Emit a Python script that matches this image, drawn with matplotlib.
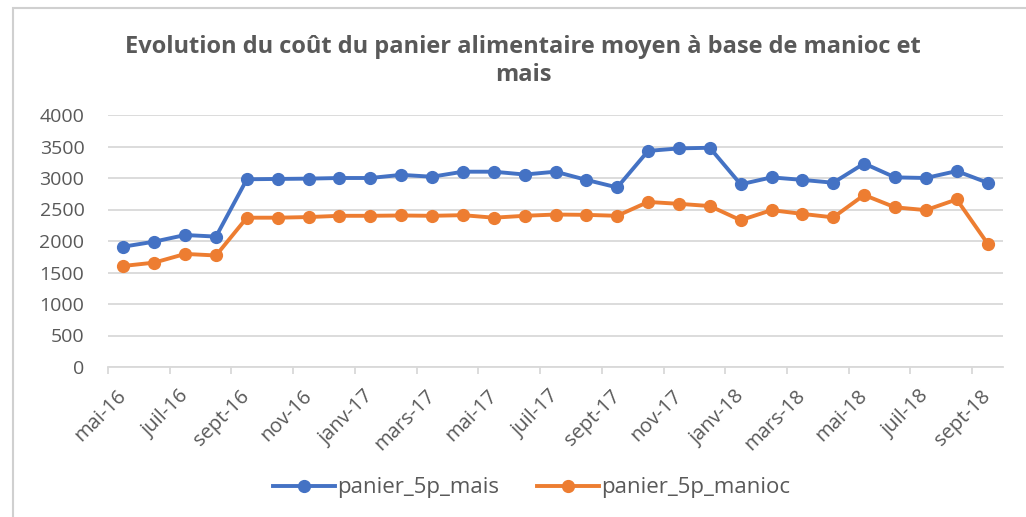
import numpy as np
import matplotlib
matplotlib.use('Agg')
import matplotlib.pyplot as plt
import matplotlib.patches as mpatches

months = ['mai-16', 'juin-16', 'juil-16', 'août-16', 'sept-16', 'oct-16', 'nov-16', 'déc-16',
          'janv-17', 'févr-17', 'mars-17', 'avr-17', 'mai-17', 'juin-17', 'juil-17', 'août-17',
          'sept-17', 'oct-17', 'nov-17', 'déc-17', 'janv-18', 'févr-18', 'mars-18', 'avr-18',
          'mai-18', 'juin-18', 'juil-18', 'août-18', 'sept-18']

panier_mais = [1910, 1990, 2095, 2070, 2980, 2985, 2990, 3000, 3000, 3050,
               3020, 3100, 3100, 3055, 3100, 2970, 2850, 3430, 3470, 3480,
               2900, 3010, 2970, 2925, 3230, 3010, 3000, 3110, 2925]
panier_manioc = [1604, 1657, 1795, 1770, 2370, 2370, 2380, 2400, 2400, 2405,
                 2400, 2410, 2370, 2400, 2420, 2415, 2400, 2620, 2590, 2555,
                 2330, 2490, 2430, 2375, 2730, 2535, 2490, 2660, 1960]

blue = '#4472C4'
orange = '#ED7D31'
txt = '#595959'
grid = '#D9D9D9'

plt.rcParams['font.family'] = ['Open Sans', 'DejaVu Sans']

fig = plt.figure(figsize=(10.26, 5.17), dpi=100)
ax = fig.add_axes([108/1026, 1-367/517, (1003-108)/1026, (367-115)/517])

x = np.arange(len(months))
l1, = ax.plot(x, panier_mais, color=blue, lw=2.8, marker='o', ms=8.5, label='panier_5p_mais', zorder=3)
l2, = ax.plot(x, panier_manioc, color=orange, lw=2.8, marker='o', ms=8.5, label='panier_5p_manioc', zorder=3)

ax.set_xlim(-0.5, len(months) - 0.5)
ax.set_ylim(0, 4000)
ax.set_yticks(np.arange(0, 4001, 500))
ax.yaxis.grid(True, color=grid, lw=1.3)
ax.set_axisbelow(True)
for s in ['left', 'right', 'top']:
    ax.spines[s].set_visible(False)
ax.spines['bottom'].set_color(grid)
ax.spines['bottom'].set_linewidth(1.3)
ax.tick_params(axis='y', length=0, labelsize=14, labelcolor=txt, pad=17)

ax.set_xticks(x[::2])
ax.set_xticklabels(months[::2], rotation=45, ha='right', va='center', rotation_mode='anchor')
ax.set_xticks(np.arange(-0.5, len(months) - 1, 2), minor=True)
ax.tick_params(axis='x', which='major', length=0, labelsize=14.5, labelcolor=txt, pad=19)
ax.tick_params(axis='x', which='minor', length=5, color=grid, width=1.3)

fig.text(0.51, 0.882, 'Evolution du coût du panier alimentaire moyen à base de manioc et\nmais',
         ha='center', va='center', fontsize=17, fontweight='bold', color=txt, linespacing=1.2)

leg = fig.legend(handles=[l1, l2], loc='center', bbox_to_anchor=(0.518, 1-488/517), ncol=2,
                 frameon=False, fontsize=16, handlelength=2.8, columnspacing=1.7, handletextpad=0.1)
for t in leg.get_texts():
    t.set_color(txt)

fig.patches.append(mpatches.Rectangle((13/1026, -0.1), 1.2, 1.1 - 8/517, transform=fig.transFigure,
                                      fill=False, ec='#D0D0D0', lw=1.5))

fig.savefig('out.png', dpi=100)
